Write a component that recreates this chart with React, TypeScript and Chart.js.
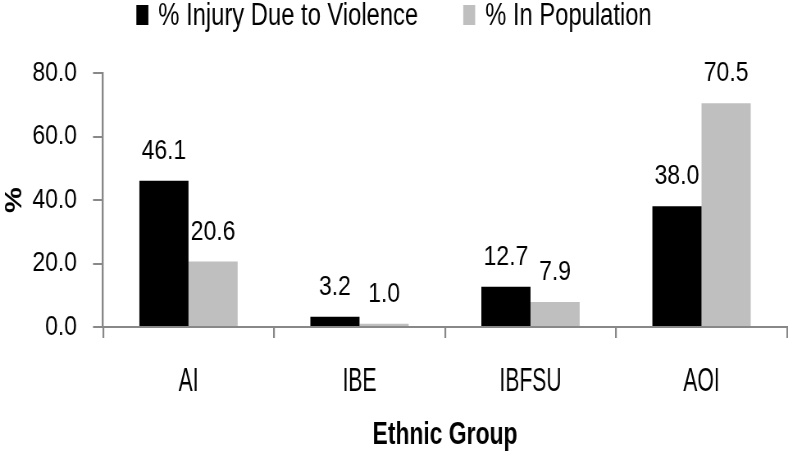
import React, { useEffect, useRef } from "react";
import { Chart, registerables } from "chart.js";

Chart.register(...registerables);

const categories = ["AI", "IBE", "IBFSU", "AOI"];
const injuryValues = [46.1, 3.2, 12.7, 38.0];
const populationValues = [20.6, 1.0, 7.9, 70.5];
const seriesNames = ["% Injury Due to Violence", "% In Population"];
const seriesColors = ["#000000", "#bfbfbf"];
const yTicks = { min: 0, max: 80, step: 20 };
const xTitle = "Ethnic Group";
const yTitle = "%";

const FONT = "'Liberation Sans', Arial, sans-serif";
// The reference uses horizontally condensed text; draw wider and squeeze with CSS.
const SQUEEZE = 0.82;
const OUT_W = 788;
const OUT_H = 453;
const CANVAS_W = Math.round(OUT_W / SQUEEZE);

function squeezedText(ctx: any, text: string, x: number, y: number, font: string, k: number, align: string) {
  ctx.save();
  ctx.font = font;
  ctx.textAlign = align;
  ctx.textBaseline = "alphabetic";
  ctx.translate(x, y);
  ctx.scale(k, 1);
  ctx.fillText(text, 0, 0);
  ctx.restore();
}

const valueLabels = {
  id: "valueLabels",
  afterDatasetsDraw(chart: any) {
    const ctx = chart.ctx;
    ctx.save();
    ctx.fillStyle = "#000";
    chart.data.datasets.forEach((ds: any, di: number) => {
      const meta = chart.getDatasetMeta(di);
      meta.data.forEach((bar: any, i: number) => {
        const v = ds.data[i] as number;
        squeezedText(ctx, v.toFixed(1), bar.x, bar.y - 22, `28px ${FONT}`, 1, "center");
      });
    });
    ctx.restore();
  },
};

const xAxisText = {
  id: "xAxisText",
  afterDraw(chart: any) {
    const ctx = chart.ctx;
    const xs = chart.scales.x;
    ctx.save();
    ctx.fillStyle = "#000";
    chart.data.labels.forEach((lab: string, i: number) => {
      squeezedText(ctx, lab, xs.getPixelForTick(i), 391, `33px ${FONT}`, 0.78, "center");
    });
    squeezedText(ctx, xTitle, (xs.left + xs.right) / 2, 444, `bold 31px ${FONT}`, 0.9, "center");
    ctx.restore();
  },
};

const customLegend = {
  id: "customLegend",
  afterDraw(chart: any) {
    const ctx = chart.ctx;
    ctx.save();
    const k = 0.935;
    const font = `31px ${FONT}`;
    ctx.font = font;
    const boxW = 12 / SQUEEZE, boxH = 20, gap = 10 / SQUEEZE, itemGap = 45 / SQUEEZE;
    const items = chart.data.datasets.map((ds: any) => ({
      text: ds.label as string,
      color: ds.backgroundColor as string,
      w: ctx.measureText(ds.label).width * k,
    }));
    const total = items.reduce((s: number, it: any) => s + boxW + gap + it.w, 0) + itemGap * (items.length - 1);
    let x = (chart.width - total) / 2;
    items.forEach((it: any) => {
      ctx.fillStyle = it.color;
      ctx.fillRect(x, 5, boxW, boxH);
      ctx.fillStyle = "#000";
      squeezedText(ctx, it.text, x + boxW + gap, 25, font, k, "left");
      x += boxW + gap + it.w + itemGap;
    });
    ctx.restore();
  },
};

export default function App() {
  const ref = useRef<HTMLCanvasElement>(null);
  useEffect(() => {
    if (!ref.current) return;
    const chart = new Chart(ref.current, {
      type: "bar",
      data: {
        labels: categories,
        datasets: [
          { label: seriesNames[0], data: injuryValues, backgroundColor: seriesColors[0], borderWidth: 0 },
          { label: seriesNames[1], data: populationValues, backgroundColor: seriesColors[1], borderWidth: 0 },
        ],
      },
      options: {
        animation: false,
        responsive: false,
        maintainAspectRatio: false,
        devicePixelRatio: 1,
        layout: { padding: { top: 73, right: 1 / SQUEEZE, left: 0, bottom: 0 } },
        plugins: {
          legend: { display: false },
          tooltip: { enabled: false },
        },
        datasets: { bar: { categoryPercentage: 0.575, barPercentage: 1 } },
        scales: {
          x: {
            afterFit: (s: any) => { s.height = 126; },
            grid: { display: true, drawOnChartArea: false, drawTicks: true, tickLength: 11, color: "#888", lineWidth: 2.2, offset: true },
            border: { display: true, color: "#888", width: 2 },
            ticks: { display: false },
            title: { display: false },
          },
          y: {
            min: yTicks.min,
            max: yTicks.max,
            afterFit: (s: any) => { s.width = 103 / SQUEEZE; },
            grid: { display: true, drawOnChartArea: false, drawTicks: true, tickLength: 10 / SQUEEZE, color: "#888", lineWidth: 2 },
            border: { display: true, color: "#888", width: 2.4 },
            ticks: { stepSize: yTicks.step, color: "#000", font: { family: FONT, size: 28 }, padding: 16 / SQUEEZE, callback: (v: any) => Number(v).toFixed(1) },
            title: { display: true, text: yTitle, color: "#000", font: { family: FONT, size: 29, weight: "bold", lineHeight: 1 }, padding: { top: 3, bottom: 0 } },
          },
        },
      },
      plugins: [valueLabels, xAxisText, customLegend],
    });
    return () => chart.destroy();
  }, []);
  return (
    <div style={{ position: "fixed", left: 0, top: 0, width: OUT_W, height: OUT_H, background: "#fff", overflow: "hidden" }}>
      <div style={{ width: CANVAS_W, height: OUT_H, transform: `scaleX(${SQUEEZE})`, transformOrigin: "0 0" }}>
        <canvas ref={ref} width={CANVAS_W} height={OUT_H} style={{ width: CANVAS_W, height: OUT_H, display: "block" }} />
      </div>
    </div>
  );
}
